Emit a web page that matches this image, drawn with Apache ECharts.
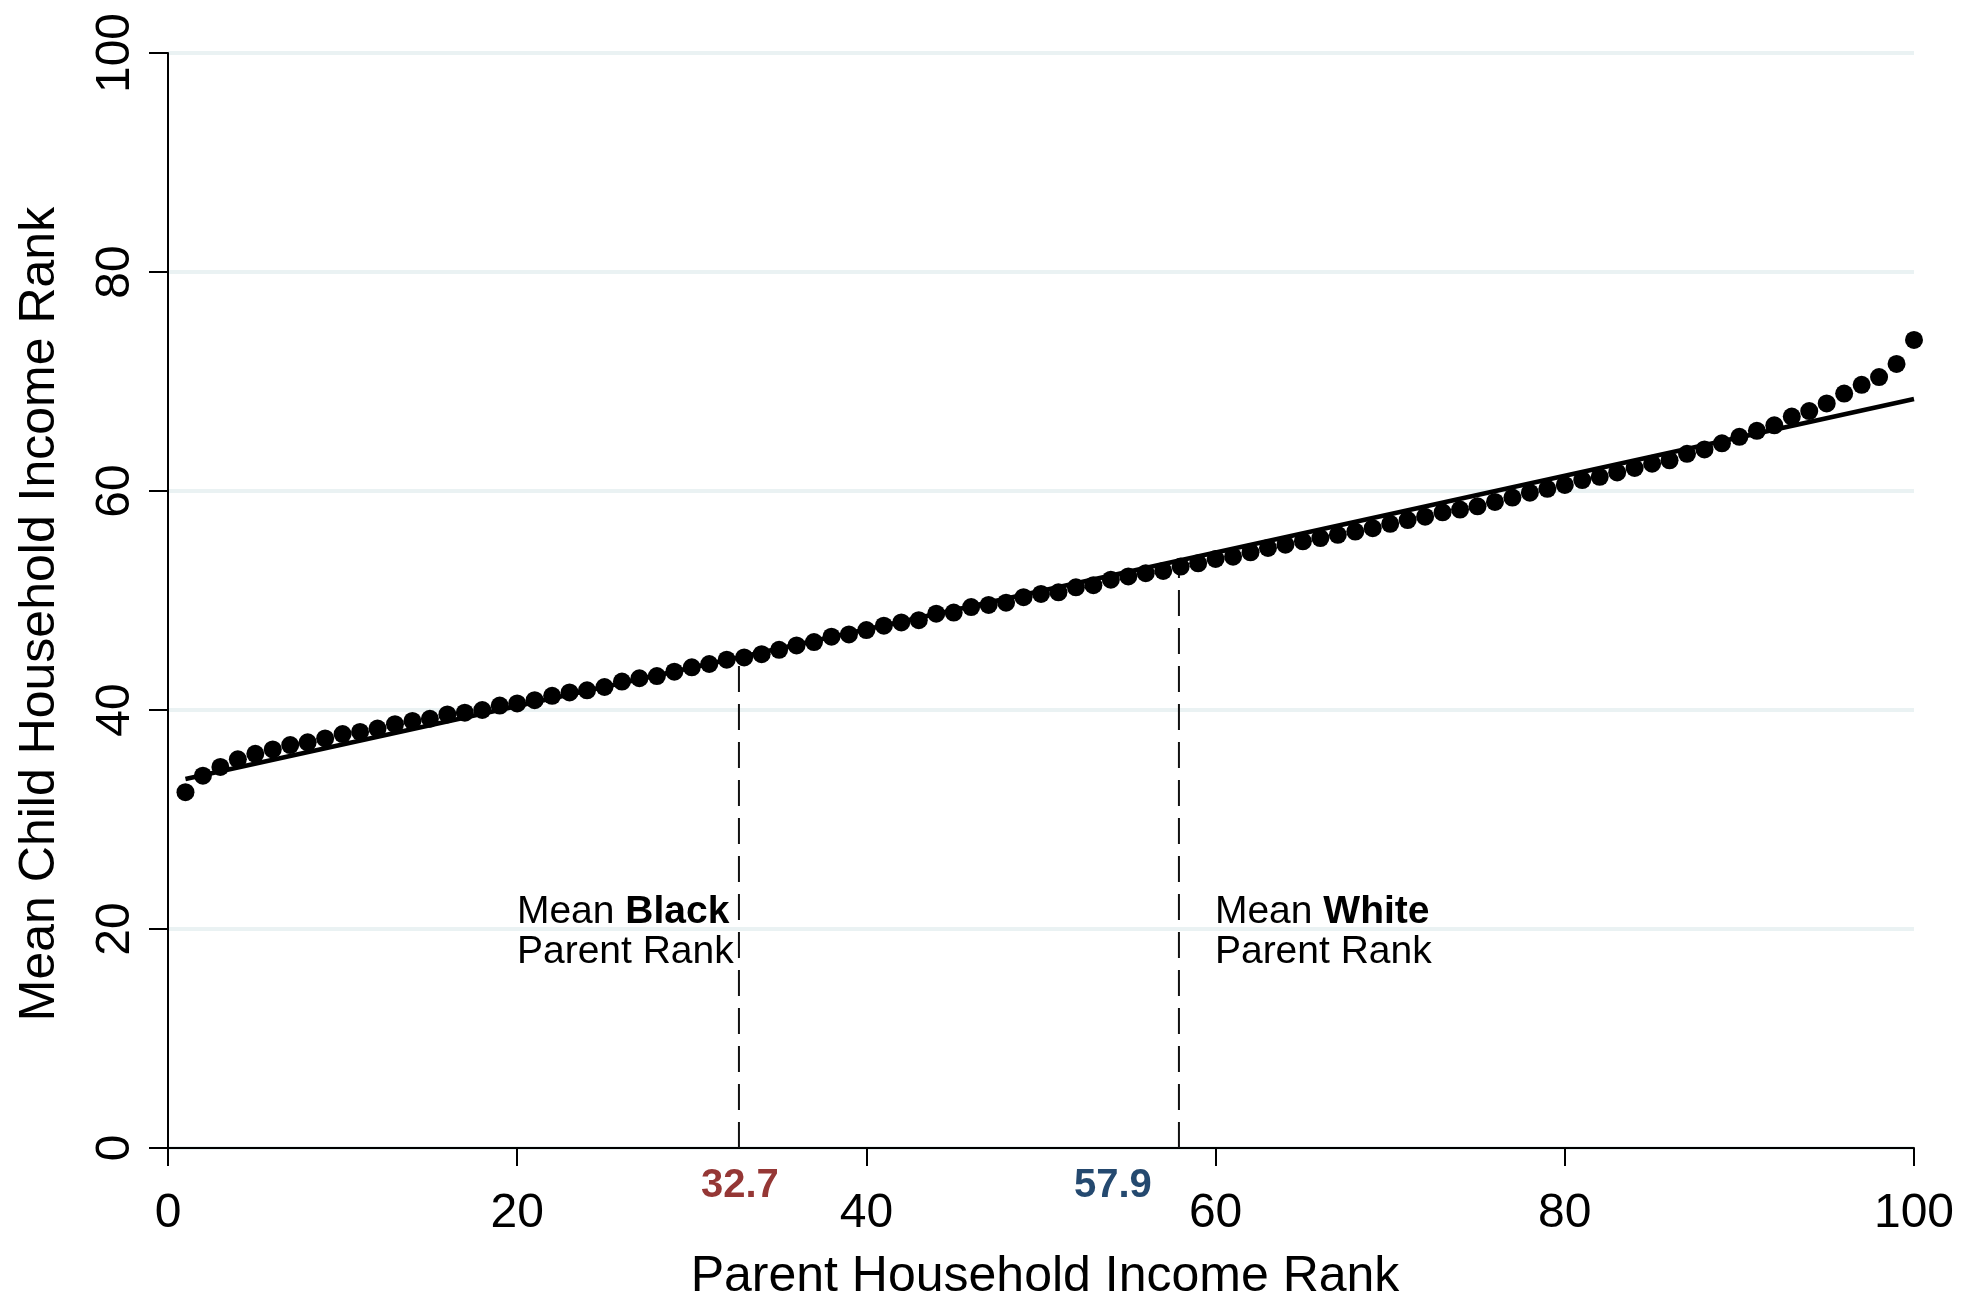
<!DOCTYPE html>
<html>
<head>
<meta charset="utf-8">
<script src="https://cdn.jsdelivr.net/npm/echarts@6/dist/echarts.min.js"></script>
<style>
html,body{margin:0;padding:0;background:#ffffff;}
#chart{width:1977px;height:1299px;}
</style>
</head>
<body>
<div id="chart"></div>
<script>
// ---- data ----
const parentRank = [1,2,3,4,5,6,7,8,9,10,11,12,13,14,15,16,17,18,19,20,
  21,22,23,24,25,26,27,28,29,30,31,32,33,34,35,36,37,38,39,40,
  41,42,43,44,45,46,47,48,49,50,51,52,53,54,55,56,57,58,59,60,
  61,62,63,64,65,66,67,68,69,70,71,72,73,74,75,76,77,78,79,80,
  81,82,83,84,85,86,87,88,89,90,91,92,93,94,95,96,97,98,99,100];
const childRank = [32.5,34.0,34.8,35.5,36.0,36.4,36.8,37.05,37.4,37.8,
  38.0,38.3,38.7,39.0,39.2,39.6,39.75,40.0,40.4,40.6,
  40.9,41.3,41.6,41.8,42.1,42.6,42.9,43.1,43.5,43.9,
  44.2,44.6,44.8,45.1,45.5,45.9,46.2,46.7,46.9,47.3,
  47.7,48.0,48.2,48.8,48.9,49.4,49.6,49.8,50.3,50.6,
  50.75,51.2,51.4,51.9,52.2,52.5,52.7,53.1,53.4,53.8,
  54.0,54.4,54.8,55.1,55.4,55.7,56.0,56.3,56.6,57.0,
  57.35,57.65,58.05,58.3,58.6,59.0,59.4,59.85,60.2,60.55,
  61.0,61.3,61.7,62.1,62.5,62.8,63.4,63.8,64.35,64.95,
  65.5,66.0,66.8,67.3,68.0,68.9,69.7,70.4,71.6,73.8];
const fitX = [1, 100];
const fitY = [33.7, 68.4];
const blackMean = 32.7;
const whiteMean = 57.9;
const meanLabels = ['32.7', '57.9'];
const xTicks = [0, 20, 40, 60, 80, 100];
const yTicks = [0, 20, 40, 60, 80, 100];
const xTitle = 'Parent Household Income Rank';
const yTitle = 'Mean Child Household Income Rank';

function fitAt(x) {
  return fitY[0] + (fitY[1] - fitY[0]) * (x - fitX[0]) / (fitX[1] - fitX[0]);
}

const FONT = '"Liberation Sans", Arial, Helvetica, sans-serif';
const chart = echarts.init(document.getElementById('chart'), null, {renderer: 'canvas'});

const option = {
  animation: false,
  backgroundColor: '#ffffff',
  grid: {left: 168, right: 63, top: 53, bottom: 151, containLabel: false, outerBoundsMode: 'none'},
  xAxis: {
    type: 'value', min: xTicks[0], max: xTicks[xTicks.length - 1], interval: 20,
    axisLine: {show: true, onZero: false, lineStyle: {color: '#000', width: 2}},
    axisTick: {show: true, length: 18, lineStyle: {color: '#000', width: 2}},
    axisLabel: {show: true, margin: 42, color: '#000', fontSize: 48, fontFamily: FONT,
      showMinLabel: true, showMaxLabel: true, hideOverlap: false},
    splitLine: {show: false}
  },
  yAxis: {
    type: 'value', min: yTicks[0], max: yTicks[yTicks.length - 1], interval: 20,
    axisLine: {show: true, onZero: false, lineStyle: {color: '#000', width: 2}},
    axisTick: {show: true, length: 19, lineStyle: {color: '#000', width: 2}},
    axisLabel: {show: true, rotate: 90, margin: 28, color: '#000', fontSize: 48, fontFamily: FONT,
      showMinLabel: true, showMaxLabel: true, hideOverlap: false},
    splitLine: {show: true, lineStyle: {color: '#EAF2F3', width: 4}}
  },
  series: [
    {
      type: 'line', data: fitX.map((x, i) => [x, fitY[i]]),
      symbol: 'none', lineStyle: {color: '#000', width: 4.5, opacity: 1}, z: 3, silent: true
    },
    {
      type: 'line', data: [[blackMean, 0], [blackMean, fitAt(blackMean)]],
      symbol: 'none', lineStyle: {color: '#111', width: 2, type: [26, 12]}, z: 2, silent: true
    },
    {
      type: 'line', data: [[whiteMean, 0], [whiteMean, fitAt(whiteMean)]],
      symbol: 'none', lineStyle: {color: '#111', width: 2, type: [26, 12]}, z: 2, silent: true
    },
    {
      type: 'scatter', data: parentRank.map((x, i) => [x, childRank[i]]),
      symbol: 'circle', symbolSize: 18, itemStyle: {color: '#000', opacity: 1}, z: 4, silent: true
    }
  ]
};
chart.setOption(option);

const pB = chart.convertToPixel({gridIndex: 0}, [blackMean, 20]);
const pW = chart.convertToPixel({gridIndex: 0}, [whiteMean, 20]);
const p0 = chart.convertToPixel({gridIndex: 0}, [0, 0]);
const p100 = chart.convertToPixel({gridIndex: 0}, [100, 100]);

const rich = {
  n: {fontSize: 39, fontFamily: FONT, color: '#000', lineHeight: 40},
  b: {fontSize: 39, fontFamily: FONT, color: '#000', fontWeight: 'bold', lineHeight: 40}
};

chart.setOption({
  graphic: [
    {type: 'text', left: pB[0] - 222, top: pB[1] - 36, silent: true,
      style: {text: '{n|Mean }{b|Black}\n{n|Parent Rank}', rich: rich}},
    {type: 'text', left: pW[0] + 36, top: pW[1] - 36, silent: true,
      style: {text: '{n|Mean }{b|White}\n{n|Parent Rank}', rich: rich}},
    {type: 'text', x: pB[0] + 1, y: 1186, silent: true,
      style: {text: meanLabels[0], fill: '#953735', font: 'bold 40px ' + FONT, textAlign: 'center', textVerticalAlign: 'middle'}},
    {type: 'text', x: pW[0] - 66, y: 1186, silent: true,
      style: {text: meanLabels[1], fill: '#24496F', font: 'bold 40px ' + FONT, textAlign: 'center', textVerticalAlign: 'middle'}},
    {type: 'text', x: (p0[0] + p100[0]) / 2 + 4, y: 1277, silent: true,
      style: {text: xTitle, fill: '#000', font: '50px ' + FONT, textAlign: 'center', textVerticalAlign: 'middle'}},
    {type: 'text', x: 40, y: 614, rotation: Math.PI / 2, silent: true,
      style: {text: yTitle, fill: '#000', font: '50px ' + FONT, textAlign: 'center', textVerticalAlign: 'middle'}}
  ]
});
</script>
</body>
</html>
